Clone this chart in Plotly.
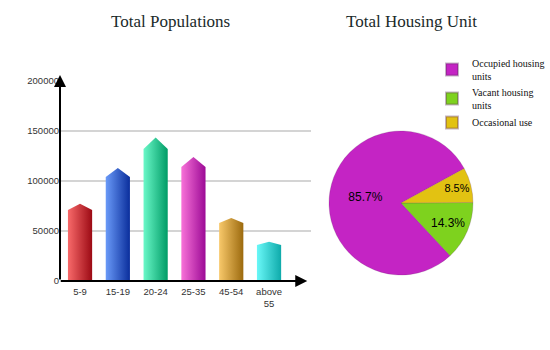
import plotly.graph_objects as go

# ---- data ----
age_groups = ["5-9", "15-19", "20-24", "25-35", "45-54", "above<br>55"]
populations = [71000, 104000, 132000, 114000, 58000, 36000]
bar_left_colors = ["#f86a6a", "#6a9af8", "#6af8c8", "#f872d8", "#f8c86a", "#6af8f8"]
bar_right_colors = ["#9c0a14", "#0a2e9c", "#009c66", "#9c0a96", "#9c6a0e", "#0eaaaa"]
y_ticks = [0, 50000, 100000, 150000, 200000]
grid_values = [50000, 100000, 150000]

housing_labels = ["Occupied housing<br>units", "Vacant housing<br>units", "Occasional use"]
housing_values = [85.7, 14.3, 8.5]
housing_colors = ["#c424c4", "#7ed21e", "#e2c212"]

fig = go.Figure()

half_w = 0.32
tip_ratio = 1.087
for i, (v, c1, c2) in enumerate(zip(populations, bar_left_colors, bar_right_colors)):
    fig.add_trace(go.Scatter(
        x=[i - half_w, i - half_w, i, i + half_w, i + half_w, i - half_w],
        y=[0, v, v * tip_ratio, v, 0, 0],
        mode="lines", fill="toself",
        line=dict(width=0, color=c2),
        fillgradient=dict(type="horizontal", colorscale=[[0, c1], [1, c2]]),
        showlegend=False, hoverinfo="skip", xaxis="x", yaxis="y",
    ))

fig.add_trace(go.Pie(
    labels=housing_labels, values=housing_values, sort=False,
    direction="counterclockwise", rotation=137,
    marker=dict(colors=housing_colors, line=dict(color="rgba(90,40,90,0.35)", width=0.6)),
    texttemplate="%{value}%", textposition="inside",
    textfont=dict(family="Liberation Sans, Arial", size=12, color="#000000"),
    insidetextorientation="horizontal",
    domain=dict(x=[329 / 550, 473 / 550], y=[1 - 275 / 350, 1 - 131 / 350]),
    showlegend=True,
))

shapes = []
for g in grid_values:
    shapes.append(dict(type="line", xref="x domain", yref="y", x0=0, x1=1, y0=g, y1=g,
                       line=dict(color="#d4d4d4", width=2), layer="below"))

fig.update_layout(
    width=550, height=350,
    margin=dict(l=0, r=0, t=0, b=0, autoexpand=False),
    paper_bgcolor="white", plot_bgcolor="white",
    xaxis=dict(domain=[60 / 550, 311 / 550], range=[-0.53, 6.11],
               tickmode="array", tickvals=list(range(len(age_groups))), ticktext=age_groups,
               showgrid=False, zeroline=False, showline=False, ticks="", ticklabelstandoff=3,
               tickfont=dict(family="Liberation Sans, Arial", size=9.5, color="#333333")),
    yaxis=dict(domain=[69 / 350, 269 / 350], range=[0, 200000],
               tickmode="array", tickvals=y_ticks, ticktext=[str(t) for t in y_ticks],
               showgrid=False, zeroline=False, showline=False, ticks="",
               tickfont=dict(family="Liberation Sans, Arial", size=9.5, color="#333333")),
    shapes=shapes,
    legend=dict(x=432 / 550, y=1 - 50 / 350, xanchor="left", yanchor="top",
                font=dict(family="Liberation Serif, Times New Roman", size=10, color="#111111"),
                bgcolor="rgba(0,0,0,0)", itemsizing="constant", tracegroupgap=0),
    annotations=[
        dict(text="Total Populations", x=170 / 550, y=1 - 22 / 350, xref="paper", yref="paper",
             xanchor="center", yanchor="middle", showarrow=False,
             font=dict(family="Liberation Serif, Georgia, serif", size=17, color="#1a2a2a")),
        dict(text="Total Housing Unit", x=411 / 550, y=1 - 22 / 350, xref="paper", yref="paper",
             xanchor="center", yanchor="middle", showarrow=False,
             font=dict(family="Liberation Serif, Georgia, serif", size=17, color="#1a2a2a")),
        # y axis with arrow
        dict(x=0, y=1.03, xref="x domain", yref="y domain", ax=0, ay=206, axref="pixel", ayref="pixel",
             showarrow=True, arrowhead=2, arrowsize=1.2, arrowwidth=2, arrowcolor="#000000", text=""),
        # x axis with arrow
        dict(x=0.985, y=0, xref="x domain", yref="y domain", ax=-248, ay=0, axref="pixel", ayref="pixel",
             showarrow=True, arrowhead=2, arrowsize=1.2, arrowwidth=2, arrowcolor="#000000", text=""),
    ],
)

fig.write_html("out.html")
